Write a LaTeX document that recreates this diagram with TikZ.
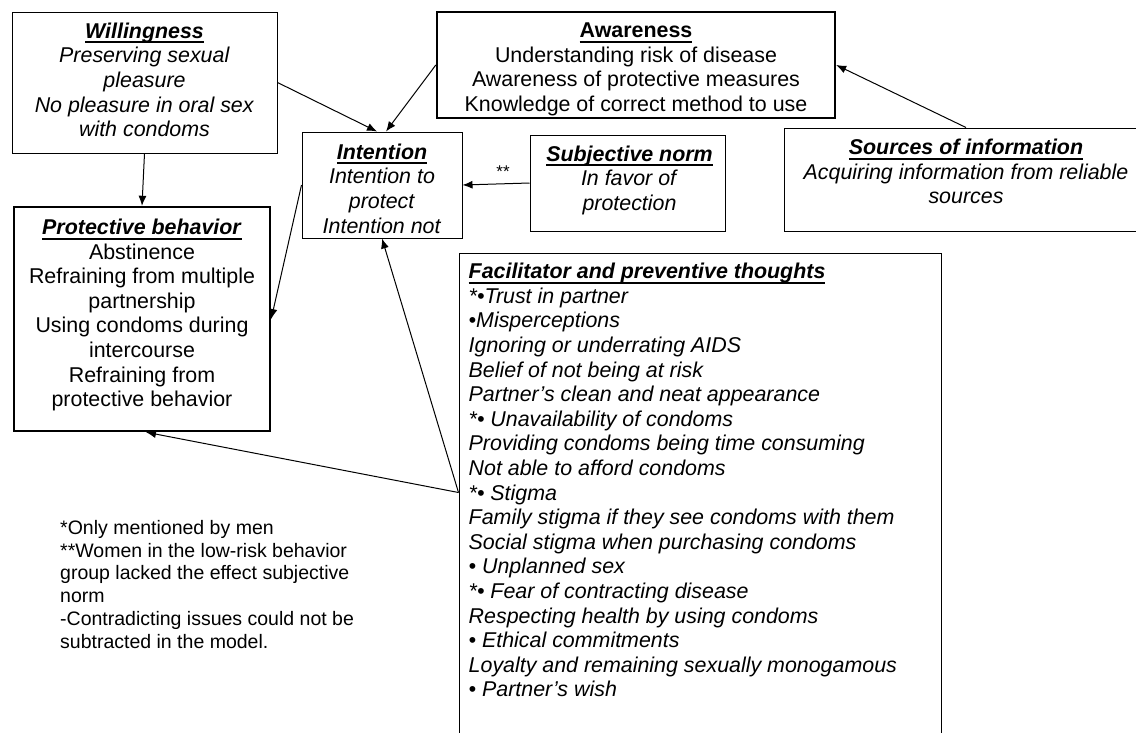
\documentclass[tikz,border=0pt]{standalone}
\usepackage{fontspec}
\setmainfont{Liberation Sans}
\usetikzlibrary{arrows.meta,positioning}
\newcommand{\headline}[1]{\setbox0=\hbox{#1}\leavevmode\rlap{\rule[-5pt]{\wd0}{2pt}}\box0}

\tikzset{
  box/.style={draw, line width=1pt, inner sep=0pt},
  thickbox/.style={draw, line width=2.4pt, inner sep=0pt},
  txt/.style={inner sep=0pt, align=center, font=\fontsize{21.4}{24.6}\selectfont},
  note/.style={inner sep=0pt, align=left, font=\fontsize{19.5}{22.8}\selectfont},
  link/.style={-{Latex[length=10pt,width=8pt]}, line width=1pt}
}

\begin{document}
\begin{tikzpicture}[x=1pt,y=-1pt]
  \clip (0,0) rectangle (1136,732);
  % boxes
  \node[box, minimum width=265, minimum height=141] (will) at (144.5,82.5) {};
  \node[thickbox, minimum width=398, minimum height=106] (aware) at (636,65) {};
  \node[box, minimum width=160, minimum height=106] (intent) at (382,185) {};
  \node[box, minimum width=195, minimum height=96] (norm) at (627.5,183) {};
  \node[box, minimum width=356, minimum height=103] (source) at (962,179.5) {};
  \node[thickbox, minimum width=256, minimum height=224] (prot) at (142,319) {};
  \node[box, minimum width=482, minimum height=520] (facil) at (700,513) {};

  % texts
  \node[txt, anchor=north] (willtext) at ([yshift=-11pt]will.north)
    {\headline{\textbf{\textit{Willingness}}}\\\textit{Preserving sexual}\\\textit{pleasure}\\
     \textit{No pleasure in oral sex}\\\textit{with condoms}};
  \node[txt, anchor=north] (awaretext) at ([yshift=-12pt]aware.north)
    {\headline{\textbf{Awareness}}\\Understanding risk of disease\\
     Awareness of protective measures\\Knowledge of correct method to use};
  \node[txt, anchor=north] (intenttext) at ([yshift=-12pt]intent.north)
    {\headline{\textbf{\textit{Intention}}}\\\textit{Intention to}\\\textit{protect}\\\textit{Intention not}};
  \node[txt, anchor=north] (normtext) at ([xshift=2pt,yshift=-11pt]norm.north)
    {\headline{\textbf{\textit{Subjective norm}}}\\\textit{In favor of}\\\textit{protection}};
  \node[txt, anchor=north] (sourcetext) at ([xshift=4pt,yshift=-11.5pt]source.north)
    {\headline{\textbf{\textit{Sources of information}}}\\\textit{Acquiring information from reliable}\\\textit{sources}};
  \node[txt, anchor=north] (prottext) at ([yshift=-13pt]prot.north)
    {\headline{\textbf{\textit{Protective behavior}}}\\Abstinence\\Refraining from multiple\\partnership\\
     Using condoms during\\intercourse\\Refraining from\\protective behavior};
  \node[txt, align=left, anchor=north west] (faciltext) at ([xshift=10pt,yshift=-10.5pt]facil.north west)
    {\headline{\textbf{\textit{Facilitator and preventive thoughts}}}\\
     \textit{*•Trust in partner}\\
     \textit{•Misperceptions}\\
     \textit{Ignoring or underrating AIDS}\\
     \textit{Belief of not being at risk}\\
     \textit{Partner’s clean and neat appearance}\\
     \textit{*• Unavailability of condoms}\\
     \textit{Providing condoms being time consuming}\\
     \textit{Not able to afford condoms}\\
     \textit{*• Stigma}\\
     \textit{Family stigma if they see condoms with them}\\
     \textit{Social stigma when purchasing condoms}\\
     \textit{• Unplanned sex}\\
     \textit{*• Fear of contracting disease}\\
     \textit{Respecting health by using condoms}\\
     \textit{• Ethical commitments}\\
     \textit{Loyalty and remaining sexually monogamous}\\
     \textit{• Partner’s wish}};
  \node[note, anchor=north west] (notes) at (60,520)
    {*Only mentioned by men\\**Women in the low-risk behavior\\group lacked the effect subjective\\
     norm\\-Contradicting issues could not be\\subtracted in the model.};

  % connectors
  \coordinate (facin) at ([yshift=-240pt]facil.north west);
  \draw[link] (will.east) -- ([xshift=-5pt]intent.north);
  \draw[link] (aware.west) -- ([xshift=4pt]intent.north);
  \draw[link] (will.south) -- (prot.north);
  \draw[link] (norm.west) -- node[above=3pt, xshift=7pt, font=\fontsize{17}{17}\selectfont] (stars) {**} (intent.east);
  \draw[link] (intent.west) -- (prot.east);
  \draw[link] (facin) -- (intent.south);
  \draw[link] (facin) -- ([xshift=4pt]prot.south);
  \draw[link] ([xshift=4pt]source.north) -- (aware.east);
\end{tikzpicture}
\end{document}
